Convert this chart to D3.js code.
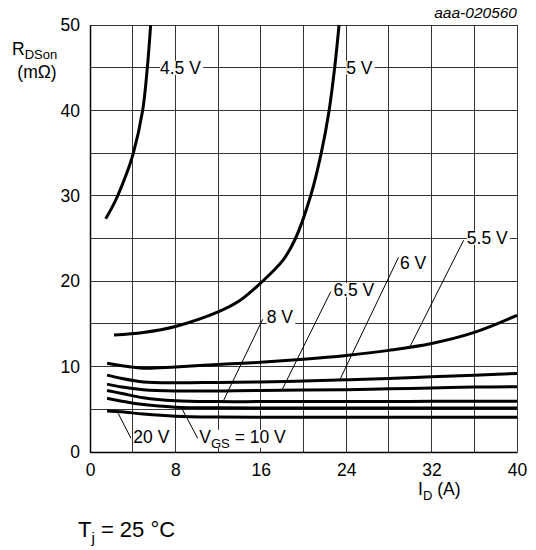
<!DOCTYPE html>
<html>
<head>
<meta charset="utf-8">
<script src="https://cdn.jsdelivr.net/npm/d3@7"></script>
<style>
  body { margin: 0; background: #fff; }
  svg text { font-family: "Liberation Sans", Arial, sans-serif; fill: #000; }
</style>
</head>
<body>
<div id="chart"></div>
<script>
// x ticks / y ticks
const xTicks = [0, 8, 16, 24, 32, 40];
const yTicks = [0, 10, 20, 30, 40, 50];

// R_DSon (mOhm) vs I_D (A), one pair of arrays per V_GS
const i45 = [1.47, 2.09, 2.59, 3.43, 4.06, 4.93, 5.37, 5.68];
const r45 = [27.3, 28.7, 30, 32.6, 35, 40, 45, 50];
const i5 = [2.25, 5, 8, 12, 14, 16, 18.1, 19.25, 20.67, 21.66, 22.4, 22.92, 23.33];
const r5 = [13.7, 14.0, 14.7, 16.4, 17.7, 19.8, 22.5, 25, 30, 35, 40, 45, 50];
const iFlat = [1.6, 3, 5, 8, 12, 16, 20, 24, 28, 32, 36, 40];
const r55 = [10.4, 10.1, 9.8, 9.95, 10.25, 10.5, 10.85, 11.3, 11.9, 12.7, 14.0, 16.0];
const r6 = [9.0, 8.6, 8.2, 8.1, 8.15, 8.2, 8.3, 8.45, 8.6, 8.8, 9.0, 9.2];
const r65 = [7.95, 7.6, 7.3, 7.15, 7.15, 7.2, 7.25, 7.3, 7.4, 7.5, 7.6, 7.65];
const r8 = [7.2, 6.85, 6.35, 6.0, 5.9, 5.9, 5.9, 5.9, 5.92, 5.93, 5.93, 5.95];
const r10 = [6.3, 5.95, 5.55, 5.25, 5.17, 5.15, 5.15, 5.15, 5.15, 5.15, 5.15, 5.15];
const r20 = [4.8, 4.7, 4.45, 4.2, 4.1, 4.08, 4.07, 4.06, 4.06, 4.06, 4.06, 4.06];

const curves = [
  [i45, r45], [i5, r5], [iFlat, r55], [iFlat, r6],
  [iFlat, r65], [iFlat, r8], [iFlat, r10], [iFlat, r20]
];

// curve labels: text, anchor (I,R) and leader end on its curve
const labels = [
  {t: "4.5 V", at: [6.56, 45]},
  {t: "5 V", at: [24.0, 45]},
  {t: "5.5 V", at: [35.3, 25.1], from: [35.0, 24.8], to: [30, 12.4]},
  {t: "6 V", at: [29.04, 22.1], from: [28.9, 22.8], to: [23.4, 8.45]},
  {t: "6.5 V", at: [22.8, 19.0], from: [22.55, 18.77], to: [18.0, 7.3]},
  {t: "8 V", at: [16.55, 15.8], from: [16.18, 15.54], to: [12.5, 6.0]},
  {t: "20 V", at: [4.06, 1.8], from: [3.84, 1.6], to: [2.65, 4.5]},
  {t: "10 V", sub: true, at: [10.24, 1.8], from: [10.09, 1.6], to: [8.6, 5.1]}
];

const W = 536, H = 550;
const m = {left: 90, top: 25, right: 19, bottom: 98};

const svg = d3.select('#chart').append('svg')
  .attr('width', W).attr('height', H);

const x = d3.scaleLinear().domain([0, 40]).range([m.left, W - m.right]);
const y = d3.scaleLinear().domain([0, 50]).range([H - m.bottom, m.top]);

// grid
const grid = svg.append('g').attr('shape-rendering', 'crispEdges')
  .attr('stroke', '#333').attr('stroke-width', 1);
grid.selectAll('.vx').data(d3.range(0, 41, 4)).enter().append('line')
  .attr('x1', d => x(d)).attr('x2', d => x(d))
  .attr('y1', y(0)).attr('y2', y(50));
grid.selectAll('.hy').data(d3.range(0, 51, 5)).enter().append('line')
  .attr('x1', x(0)).attr('x2', x(40))
  .attr('y1', d => y(d)).attr('y2', d => y(d));

// axes
svg.append('g').attr('transform', `translate(0,${y(0)})`)
  .call(d3.axisBottom(x).tickValues(xTicks).tickSize(0).tickPadding(12))
  .call(g => g.select('.domain').attr('stroke', '#000').attr('stroke-width', 1.5))
  .call(g => g.selectAll('text').attr('font-size', 17.5)
    .attr('font-family', '"Liberation Sans", Arial, sans-serif').attr('fill', '#000'));
svg.append('g').attr('transform', `translate(${x(0)},0)`)
  .call(d3.axisLeft(y).tickValues(yTicks).tickSize(0).tickPadding(10))
  .call(g => g.select('.domain').attr('stroke', '#000').attr('stroke-width', 1.5))
  .call(g => g.selectAll('text').attr('font-size', 17.5)
    .attr('font-family', '"Liberation Sans", Arial, sans-serif').attr('fill', '#000'));

// curves
const line = d3.line().x(d => x(d[0])).y(d => y(d[1])).curve(d3.curveCatmullRom.alpha(0.5));
svg.append('g').selectAll('path').data(curves).enter().append('path')
  .attr('d', c => line(c[0].map((v, i) => [v, c[1][i]])))
  .attr('fill', 'none').attr('stroke', '#000').attr('stroke-width', 3)
  .attr('stroke-linecap', 'butt');

// leaders
svg.append('g').selectAll('line').data(labels.filter(d => d.from)).enter().append('line')
  .attr('x1', d => x(d.from[0])).attr('y1', d => y(d.from[1]))
  .attr('x2', d => x(d.to[0])).attr('y2', d => y(d.to[1]))
  .attr('stroke', '#000').attr('stroke-width', 1);

// label texts with white backing
const lg = svg.append('g');
labels.forEach(d => {
  const g = lg.append('g');
  const bg = g.append('rect').attr('fill', '#fff');
  const t = g.append('text').attr('font-size', 17.5)
    .attr('x', x(d.at[0])).attr('y', y(d.at[1])).attr('dy', '0.35em');
  if (d.sub) {
    t.append('tspan').text('V');
    t.append('tspan').attr('font-size', 13).attr('dy', 5).text('GS');
    t.append('tspan').attr('dy', -5).text(' = ' + d.t);
  } else {
    t.text(d.t);
  }
  const b = t.node().getBBox();
  bg.attr('x', b.x).attr('y', b.y + 3).attr('width', b.width + 2).attr('height', b.height - 6);
});

// axis titles
const yt = svg.append('text').attr('x', 12).attr('y', 55).attr('font-size', 17.5);
yt.append('tspan').text('R');
yt.append('tspan').attr('font-size', 13).attr('dy', 4).text('DSon');
svg.append('text').attr('x', 37).attr('y', 78).attr('font-size', 17.5)
  .attr('text-anchor', 'middle').text('(mΩ)');

const xt = svg.append('text').attr('x', 418).attr('y', 495).attr('font-size', 17.5);
xt.append('tspan').text('I');
xt.append('tspan').attr('font-size', 13).attr('dy', 5).text('D');
xt.append('tspan').attr('dy', -5).text(' (A)');

svg.append('text').attr('x', 517).attr('y', 18).attr('text-anchor', 'end')
  .attr('font-size', 15.5).attr('font-style', 'italic').text('aaa-020560');

const tj = svg.append('text').attr('x', 78).attr('y', 537).attr('font-size', 22);
tj.append('tspan').text('T');
tj.append('tspan').attr('font-size', 15).attr('dy', 6).text('j');
tj.append('tspan').attr('dy', -6).text(' = 25 °C');
</script>
</body>
</html>
